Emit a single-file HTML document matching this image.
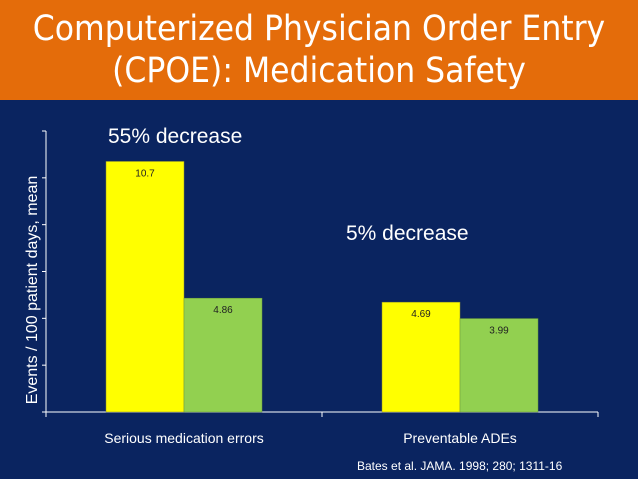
<!DOCTYPE html>
<html><head><meta charset="utf-8"><style>
body{margin:0;width:638px;height:479px;overflow:hidden;background:#0a2460;font-family:"Liberation Sans",sans-serif}
#hdr{position:absolute;left:0;top:0;width:638px;height:100px;background:#e46c0a;color:#fff;text-align:center;font-size:35px;line-height:42px;padding-top:8px;box-sizing:border-box;font-family:"DejaVu Sans Condensed","Liberation Sans",sans-serif}
svg{position:absolute;left:0;top:0}
</style></head><body>
<div id="hdr">Computerized Physician Order Entry<br>(CPOE): Medication Safety</div>
<svg id="c" width="638" height="479"></svg>
<script>
const categories=["Serious medication errors","Preventable ADEs"];
const beforeVals=[10.7,4.69];
const afterVals=[4.86,3.99];
const beforeLabels=["10.7","4.69"];
const afterLabels=["4.86","3.99"];
const yTicks=[0,2,4,6,8,10,12];
const NS="http://www.w3.org/2000/svg";
const svg=document.getElementById('c');
const x0=46,x1=598,yb=412,yt=131,ymax=12;
const y=v=>yb-(yb-yt)*v/ymax;
const gw=(x1-x0)/categories.length;
function el(t,a,txt){const e=document.createElementNS(NS,t);for(const k in a)e.setAttribute(k,a[k]);if(txt!==undefined)e.textContent=txt;svg.appendChild(e);return e;}
let ax=el('line',{x1:x0,y1:yt,x2:x0,y2:yb,stroke:'#fff','stroke-width':1});


let xa=el('line',{x1:x0,y1:yb,x2:x1,y2:yb,stroke:'#fff','stroke-width':1});


yTicks.forEach(v=>{let t=el('line',{x1:x0-4,y1:y(v),x2:x0,y2:y(v),stroke:'#fff'});

});
[x0,x0+gw,x1].forEach(xx=>{let t=el('line',{x1:xx,y1:yb,x2:xx,y2:yb+5,stroke:'#fff'});

});
const bw=78;
categories.forEach((c,i)=>{
 const cx=x0+gw*i+gw/2;
 let b1=el('rect',{x:cx-bw,y:y(beforeVals[i]),width:bw,height:yb-y(beforeVals[i]),fill:'#ffff00',stroke:'#8a8a30','stroke-width':0.5});
 
 
 let b2=el('rect',{x:cx,y:y(afterVals[i]),width:bw,height:yb-y(afterVals[i]),fill:'#92d050',stroke:'#6a9a3a','stroke-width':0.5});
 
 
 let l1=el('text',{x:cx-bw/2,y:y(beforeVals[i])+15,'text-anchor':'middle','font-size':10,fill:'#222'},beforeLabels[i]);
 
 
 let l2=el('text',{x:cx+bw/2,y:y(afterVals[i])+15,'text-anchor':'middle','font-size':10,fill:'#222'},afterLabels[i]);
 
 
 let cl=el('text',{x:cx,y:443,'text-anchor':'middle','font-size':14,fill:'#fff'},c);
 
 
});
let yl=el('text',{x:0,y:0,transform:'translate(37,290) rotate(-90)','text-anchor':'middle','font-size':16,fill:'#fff'},'Events / 100 patient days, mean');


let a1=el('text',{x:108,y:143,'font-size':21,fill:'#fff'},'55% decrease');


let a2=el('text',{x:346,y:240,'font-size':21,fill:'#fff'},'5% decrease');


let src=el('text',{x:357,y:470,'font-size':12,fill:'#fff'},'Bates et al. JAMA. 1998; 280; 1311-16');


</script>
</body></html>
